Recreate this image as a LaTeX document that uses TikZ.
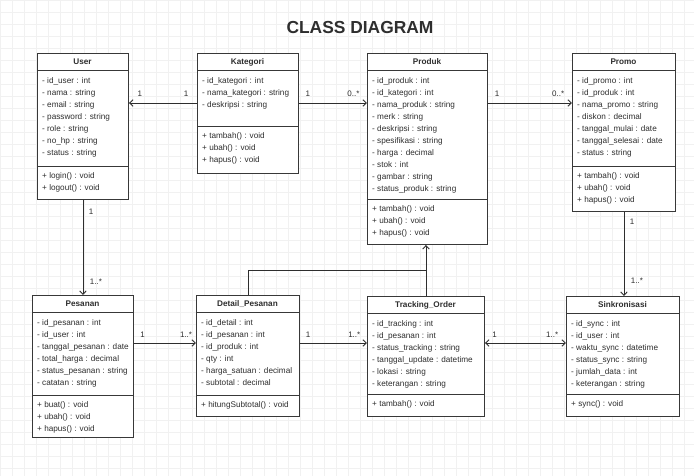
\documentclass[tikz,border=0pt]{standalone}
\usepackage{fontspec}
\setmainfont{Liberation Sans}
\usetikzlibrary{arrows.meta,calc}

\definecolor{ink}{HTML}{2E2E2E}
\definecolor{frame}{HTML}{383838}
\definecolor{gridc}{HTML}{F1F1F1}

\tikzset{
  classframe/.style={draw=frame, line width=0.95pt, fill=white, rectangle, inner sep=0pt},
  classline/.style={draw=frame, line width=0.8pt},
  classtitle/.style={font=\fontsize{8.2}{10}\selectfont\bfseries, text=ink, inner sep=0pt},
  member/.style={font=\fontsize{8.2}{10}\selectfont, text=ink, inner sep=0pt, anchor=base west},
  assoc/.style={draw=ink, line width=0.9pt, -{Straight Barb[length=3.5pt,width=6.5pt]}},
  plainline/.style={draw=ink, line width=0.9pt},
  mult/.style={font=\fontsize{8}{10}\selectfont, text=ink, inner sep=0pt},
}

% #1 id, #2 title, #3 left, #4 top, #5 right, #6 bottom, #7 separator y,
% #8 attributes, #9 operations
\newcommand\umlclass[9]{%
  \node[classframe, anchor=north west, minimum width={#5-#3}, minimum height={#6-#4}] (#1) at (#3,#4) {};
  \node[classtitle] (#1-title) at ({(#3+#5)/2},{#4+9}) {#2};
  \draw[classline] ($(#1.north west)+(0,17.5)$) -- ($(#1.north east)+(0,17.5)$);
  \draw[classline] (#1.west |- 0,#7) -- (#1.east |- 0,#7);
  \foreach \t [count=\i] in {#8}
    \node[member] (#1-a\i) at ({#3+5},{#4+30.5+(\i-1)*12}) {\t};
  \foreach \t [count=\i] in {#9}
    \node[member] (#1-m\i) at ({#3+5},{#7+12.5+(\i-1)*12}) {\t};
}

\begin{document}
\begin{tikzpicture}[x=1pt,y=-1pt]
  \useasboundingbox (0,0) rectangle (694,476);
  \fill[white] (0,0) rectangle (694,476);
  \draw[gridc, line width=0.4pt, step=12pt] (0,0) grid (694,476);

  \node[font=\fontsize{17.4}{20}\selectfont\bfseries, text=ink, inner sep=0pt] (heading) at (360,28) {CLASS DIAGRAM};

  \umlclass{user}{User}{37}{53}{128}{199}{166}
    {- id\_user : int, - nama : string, - email : string, - password : string, - role : string, - no\_hp : string, - status : string}
    {+ login() : void, + logout() : void}

  \umlclass{kategori}{Kategori}{197}{53}{298}{173}{126}
    {- id\_kategori : int, - nama\_kategori : string, - deskripsi : string}
    {+ tambah() : void, + ubah() : void, + hapus() : void}

  \umlclass{produk}{Produk}{367}{53}{487}{244}{199}
    {- id\_produk : int, - id\_kategori : int, - nama\_produk : string, - merk : string, - deskripsi : string, - spesifikasi : string, - harga : decimal, - stok : int, - gambar : string, - status\_produk : string}
    {+ tambah() : void, + ubah() : void, + hapus() : void}

  \umlclass{promo}{Promo}{572}{53}{675}{211}{166}
    {- id\_promo : int, - id\_produk : int, - nama\_promo : string, - diskon : decimal, - tanggal\_mulai : date, - tanggal\_selesai : date, - status : string}
    {+ tambah() : void, + ubah() : void, + hapus() : void}

  \umlclass{pesanan}{Pesanan}{32}{295}{133}{437}{395}
    {- id\_pesanan : int, - id\_user : int, - tanggal\_pesanan : date, - total\_harga : decimal, - status\_pesanan : string, - catatan : string}
    {+ buat() : void, + ubah() : void, + hapus() : void}

  \umlclass{detail}{Detail\_Pesanan}{196}{295}{299}{416}{395}
    {- id\_detail : int, - id\_pesanan : int, - id\_produk : int, - qty : int, - harga\_satuan : decimal, - subtotal : decimal}
    {+ hitungSubtotal() : void}

  \umlclass{tracking}{Tracking\_Order}{367}{296}{484}{416}{394}
    {- id\_tracking : int, - id\_pesanan : int, - status\_tracking : string, - tanggal\_update : datetime, - lokasi : string, - keterangan : string}
    {+ tambah() : void}

  \umlclass{sinkron}{Sinkronisasi}{566}{296}{679}{416}{394}
    {- id\_sync : int, - id\_user : int, - waktu\_sync : datetime, - status\_sync : string, - jumlah\_data : int, - keterangan : string}
    {+ sync() : void}

  % associations of the top row
  \draw[assoc] (kategori.west |- 0,103) -- (user.east |- 0,103)
    node[mult, pos=0.16, yshift=9pt] (m1a) {1}
    node[mult, pos=0.84, yshift=9pt] (m1b) {1};
  \draw[assoc] (kategori.east |- 0,103) -- (produk.west |- 0,103)
    node[mult, pos=0.13, yshift=9pt] (m2a) {1}
    node[mult, pos=0.80, yshift=9pt] (m2b) {0..*};
  \draw[assoc] (produk.east |- 0,103) -- (promo.west |- 0,103)
    node[mult, pos=0.11, yshift=9pt] (m3a) {1}
    node[mult, pos=0.835, yshift=9pt] (m3b) {0..*};

  % vertical associations
  \draw[assoc] (user.south) -- (pesanan.north)
    node[mult, pos=0.125, xshift=8pt] (m4a) {1}
    node[mult, pos=0.865, xshift=13pt] (m4b) {1..*};
  \draw[assoc] (promo.south) -- (promo.south |- sinkron.north)
    node[mult, pos=0.12, xshift=8pt] (m5a) {1}
    node[mult, pos=0.82, xshift=13pt] (m5b) {1..*};

  % associations of the bottom row
  \draw[assoc] (pesanan.east |- 0,343) -- (detail.west |- 0,343)
    node[mult, pos=0.14, yshift=8pt] (m6a) {1}
    node[mult, pos=0.84, yshift=8pt] (m6b) {1..*};
  \draw[assoc] (detail.east |- 0,343) -- (tracking.west |- 0,343)
    node[mult, pos=0.12, yshift=8pt] (m7a) {1}
    node[mult, pos=0.81, yshift=8pt] (m7b) {1..*};
  \draw[assoc, {Straight Barb[length=3.5pt,width=6.5pt]}-{Straight Barb[length=3.5pt,width=6.5pt]}]
    (tracking.east |- 0,343) -- (sinkron.west |- 0,343)
    node[mult, pos=0.12, yshift=8pt] (m8a) {1}
    node[mult, pos=0.83, yshift=8pt] (m8b) {1..*};

  % order lines up to the product
  \coordinate (junction) at (tracking.north |- 0,270);
  \draw[plainline] (detail.north) |- (junction);
  \draw[assoc] (tracking.north) -- (tracking.north |- produk.south);
\end{tikzpicture}
\end{document}
